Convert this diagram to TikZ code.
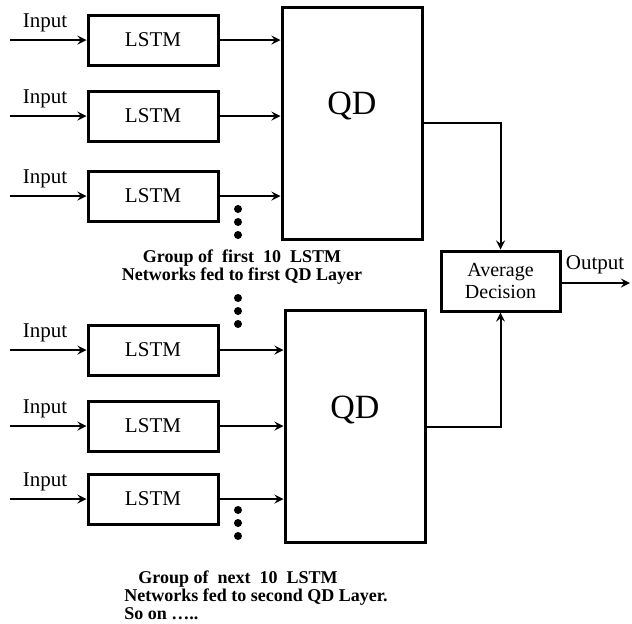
\documentclass[tikz,border=0pt]{standalone}
\usepackage{fontspec}
\setmainfont{Liberation Serif}
\tikzstyle{lstm box}=[draw,line width=1.5pt,minimum width=65pt,minimum height=25pt,
    inner sep=0pt,font=\fontsize{10.5}{12}\selectfont]
\tikzstyle{qd box}=[draw,line width=1.5pt,minimum width=70pt,minimum height=116pt,
    inner sep=0pt]
\tikzstyle{qd text}=[inner sep=0pt,font=\fontsize{17}{20}\selectfont]
\tikzstyle{average box}=[draw,line width=1.5pt,minimum width=59.5pt,minimum height=30pt,
    inner sep=0pt,align=center,font=\fontsize{10}{11}\selectfont]
\tikzstyle{io label}=[inner sep=0pt,font=\fontsize{10.5}{12}\selectfont]
\tikzstyle{group label}=[inner sep=0pt,font=\bfseries\fontsize{9}{9}\selectfont]
\tikzstyle{feed}=[->,>=stealth,line width=1pt]
\newcommand{\qdlayer}[3]{
    \node[qd box] at (#1,#2) (#3) {};
    \node[qd text] at (#1,#2-17) (#3text) {QD};
}
\newcommand{\lstm}[3]{
    \coordinate (#2in) at (10,#1);
    \node[lstm box] at (153,#1) (#2) {LSTM};
    \node[io label] at (45,#1-17) (#2label) {Input};
    \draw[feed] (#2in) -- (#2);
    \draw[feed] (#2) -- (#2 -| #3.west);
}
\newcommand{\moredots}[1]{
    \foreach \dy in {0,13,26} \fill (238,#1+\dy) circle (2pt);
}

\begin{document}
\begin{tikzpicture}[x=0.5pt,y=-0.5pt]
    \useasboundingbox (0,0) rectangle (632,623);
    \qdlayer{352}{123}{QD1}
    \qdlayer{355}{426.5}{QD2}
    \node[average box] at (500.5,281) (AVG) {Average\\Decision};
    %
    \lstm{40}{L1}{QD1}
    \lstm{116}{L2}{QD1}
    \lstm{196}{L3}{QD1}
    \moredots{209}
    \node[group label,align=center] at (242,267) (G1)
        {Group of\ \ first\ \ 10\ \ LSTM\\Networks fed to first QD Layer};
    \moredots{298}
    %
    \lstm{350}{L4}{QD2}
    \lstm{426}{L5}{QD2}
    \lstm{499}{L6}{QD2}
    \moredots{510}
    \node[group label,align=left,anchor=west] at (124,595) (G2)
        {\hspace*{7pt}Group of\ \ next\ \ 10\ \ LSTM\\Networks fed to second QD Layer.\\So on \dots..};
    %
    \draw[feed] (QD1) -| (AVG);
    \draw[feed] (QD2) -| (AVG);
    \coordinate (OUT) at (630,283);
    \node[io label] at (595,265) (OUTlabel) {Output};
    \draw[feed] (AVG.east |- OUT) -- (OUT);
\end{tikzpicture}
\end{document}
